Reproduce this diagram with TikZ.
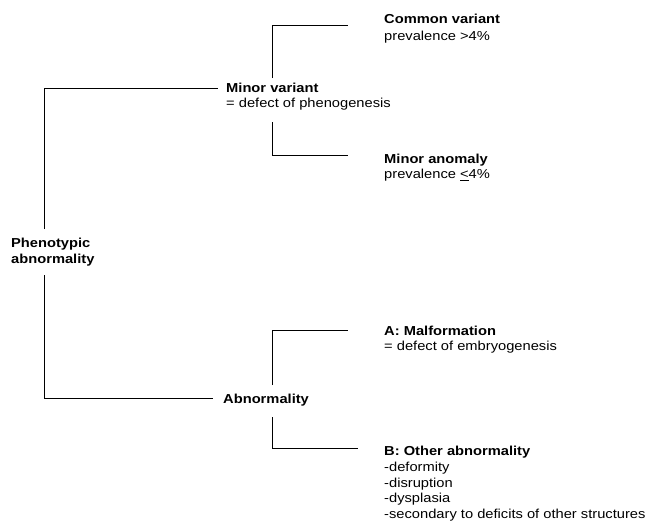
\documentclass[tikz,border=0pt]{standalone}
\usepackage{fontspec}
\setmainfont{Liberation Sans}[FakeStretch=1.13]
\usepackage{tikz}
\usetikzlibrary{positioning}
\newcommand{\treefont}{\fontsize{13pt}{15.6pt}\selectfont}
\tikzset{
  root/.style={
    font=\treefont\bfseries,
    align=left,
    anchor=base west,
    inner xsep=0pt,
    inner ysep=9pt
  },
  head/.style={
    font=\treefont\bfseries,
    anchor=base west,
    inner xsep=0pt,
    inner ysep=5pt,
    text height=9.3pt,
    text depth=0pt
  },
  note/.style={
    font=\treefont,
    align=left,
    anchor=base west,
    inner sep=0pt
  },
  treeedge/.style={line width=0.8pt, draw=black}
}

\begin{document}
\begin{tikzpicture}[x=1pt,y=-1pt]
\path[use as bounding box] (0,0) rectangle (650,527);

% base of a multi-line node is its last line
\node[root] (root) at (11,263.3) {Phenotypic\\abnormality};

\node[head] (minor) at (226,92.7) {Minor variant};
\node[note] (minordesc) at (226,107.5) {= defect of phenogenesis};
\node[head] (common) at (384,24) {Common variant};
\node[note] (commondesc) at (384,40.7) {prevalence >4\%};
\node[head] (anomaly) at (384,163.3) {Minor anomaly};
\node[note] (anomalydesc) at (384,178.3) {prevalence \underline{<}4\%};

\node[head] (abn) at (223,403.5) {Abnormality};
\node[head] (malf) at (384,335) {A: Malformation};
\node[note] (malfdesc) at (384,350) {= defect of embryogenesis};
\node[head] (other) at (384,455.7) {B: Other abnormality};
\node[note] (otherdesc) at (384,518.3) {-deformity\\-disruption\\-dysplasia\\-secondary to deficits of other structures};

\draw[treeedge] ([xshift=-8pt]root.north) |- ([xshift=-8pt]minor.west);
\draw[treeedge] ([xshift=-8pt]root.south) |- ([xshift=-10pt]abn.west);
\draw[treeedge] (minor.north) |- ([xshift=-36pt,yshift=-6pt]common.west);
\draw[treeedge] ([yshift=-12pt]minordesc.south -| minor.north) |- ([xshift=-36pt,yshift=3.5pt]anomaly.west);
\draw[treeedge] ([xshift=6pt,yshift=4pt]abn.north) |- ([xshift=-36pt]malf.west);
\draw[treeedge] ([xshift=6pt,yshift=-8.5pt]abn.south) |- ([xshift=-26pt,yshift=3pt]other.west);

\end{tikzpicture}
\end{document}
